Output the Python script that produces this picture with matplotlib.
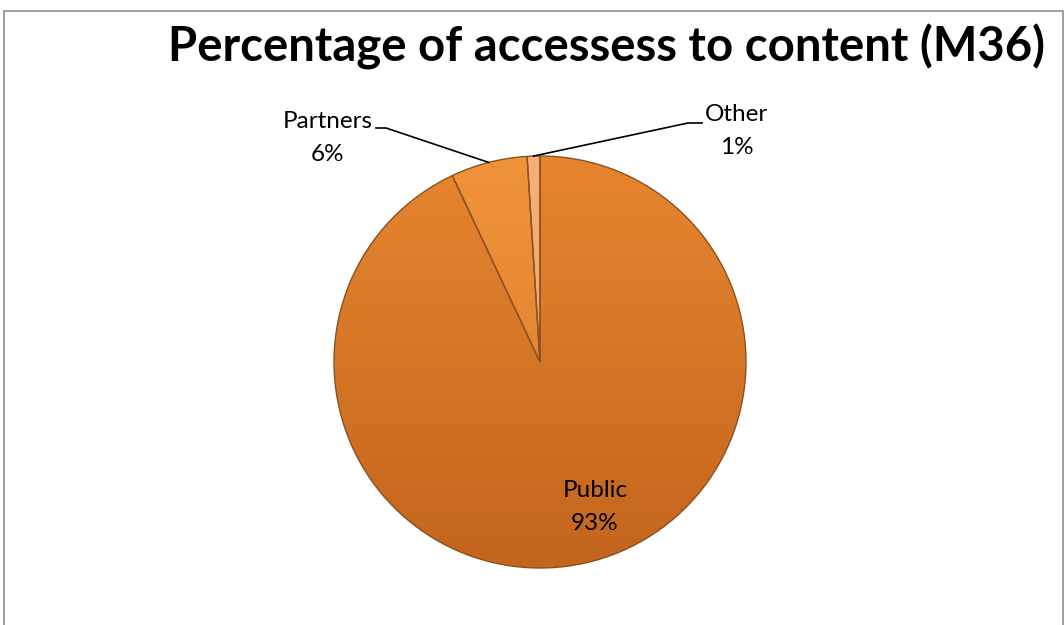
import numpy as np
import matplotlib.pyplot as plt
from matplotlib.patches import Rectangle
from matplotlib.colors import LinearSegmentedColormap

plt.rcParams['font.family'] = ['Lato', 'DejaVu Sans']

# data
labels = ['Public', 'Partners', 'Other']
values = [93, 6, 1]
pct_text = ['93%', '6%', '1%']

top_colors = ['#e8862f', '#f0943a', '#f7b07a']
bottom_colors = ['#c2641d', '#d9782a', '#ee9a5e']

W, H = 1064, 625
fig = plt.figure(figsize=(W / 100, H / 100), dpi=100)
ax = fig.add_axes([0, 0, 1, 1])
ax.set_xlim(0, W)
ax.set_ylim(0, H)
ax.set_aspect('equal')
ax.axis('off')

# chart frame
ax.add_patch(Rectangle((3.5, -5), 1059, H - 10.5 + 5, fill=False,
                       edgecolor='#8c8c8c', linewidth=1.2))

cx, cy, r = 540, 263, 206
wedges, _ = ax.pie(values, startangle=90, counterclock=False,
                   center=(cx, cy), radius=r,
                   explode=[0.012, 0.03, 0.03],
                   wedgeprops=dict(edgecolor='#8a5222', linewidth=1.0))

# vertical shading inside each slice
grad = np.linspace(0, 1, 256).reshape(-1, 1)
for w, c1, c2 in zip(wedges, top_colors, bottom_colors):
    cmap = LinearSegmentedColormap.from_list('g', [c2, c1])
    w.set_facecolor('none')
    im = ax.imshow(grad, cmap=cmap, origin='lower', aspect='auto',
                   extent=(cx - r - 10, cx + r + 10, cy - r - 10, cy + r + 10),
                   zorder=0.5)
    im.set_clip_path(w)
    w.set_zorder(1)

ax.set_xlim(0, W)
ax.set_ylim(0, H)

# title
ax.text(606, H - 47, 'Percentage of accessess to content (M36)', ha='center',
        va='center', fontsize=34, fontweight='bold', color='black')

# labels
fs = 17.5
ls = 1.68
ax.text(595, H - 507, f'{labels[0]}\n{pct_text[0]}', ha='center', va='center',
        fontsize=fs, linespacing=ls)


def edge_point(w):
    ang = np.deg2rad((w.theta1 + w.theta2) / 2)
    return w.center[0] + w.r * np.cos(ang), w.center[1] + w.r * np.sin(ang)


# Partners leader
px, py = edge_point(wedges[1])
ax.plot([376, 386, px], [H - 128, H - 128, py], color='black', linewidth=1.2)
ax.text(328, H - 138, f'{labels[1]}\n{pct_text[1]}', ha='center', va='center',
        fontsize=fs, linespacing=ls)

# Other leader
ox, oy = edge_point(wedges[2])
ax.plot([702, 688, ox], [H - 123, H - 123, oy], color='black', linewidth=1.2)
ax.text(737, H - 131, f'{labels[2]}\n{pct_text[2]}', ha='center', va='center',
        fontsize=fs, linespacing=ls)

fig.savefig('out.png', dpi=100)
